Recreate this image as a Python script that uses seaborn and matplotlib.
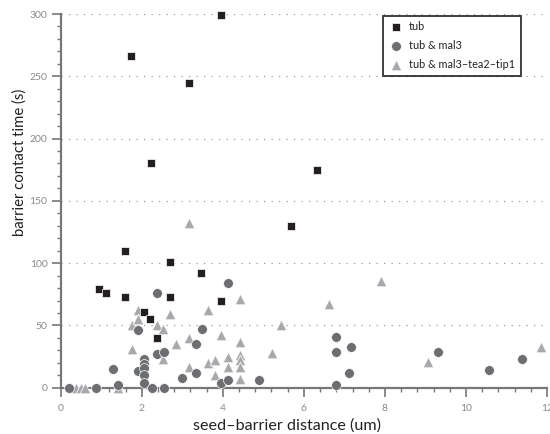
import matplotlib
matplotlib.use("Agg")
import matplotlib.pyplot as plt
import seaborn as sns
import pandas as pd
from matplotlib.ticker import MultipleLocator

# tub alone
tub_x = [1.74, 2.22, 3.16, 3.95, 6.32, 5.69, 1.59, 2.69, 3.47, 0.95, 1.11,
         1.59, 2.69, 3.95, 2.06, 2.21, 2.37]
tub_y = [266, 180, 245, 299, 175, 130, 110, 101, 92, 79, 76,
         73, 73, 70, 61, 55, 40]

# tub & mal3
mal3_x = [0.21, 0.87, 1.42, 1.28, 1.90, 1.90, 2.06, 2.06, 2.06, 2.06, 2.06,
          2.25, 2.37, 2.55, 2.38, 2.55, 3.00, 3.33, 3.33, 3.48, 4.12, 3.95,
          4.12, 4.90, 6.80, 6.80, 6.80, 7.17, 7.11, 9.32, 10.58, 11.38]
mal3_y = [0, 0, 2, 15, 46, 13, 23, 19, 16, 10, 4,
          0, 27, 29, 76, 0, 8, 35, 12, 47, 84, 4,
          6, 6, 41, 29, 2, 33, 12, 29, 14, 23]

# tub & mal3-tea2-tip1
tip1_x = [0.38, 0.50, 0.60, 1.42, 1.75, 1.75, 1.90, 1.90, 2.37, 2.53, 2.53,
          2.69, 2.85, 3.16, 3.16, 3.16, 3.64, 3.64, 3.80, 3.80, 3.95, 4.12,
          4.12, 4.43, 4.43, 4.43, 4.43, 4.43, 4.43, 5.21, 5.44, 6.63, 7.90,
          9.07, 11.86]
tip1_y = [0, 0, 0, 0, 31, 50, 62, 55, 50, 47, 23,
          59, 35, 132, 40, 17, 62, 20, 22, 10, 42, 25,
          17, 71, 37, 26, 22, 17, 7, 28, 50, 67, 86,
          21, 33]

labels = ["tub", "tub & mal3", "tub & mal3\u2013tea2\u2013tip1"]
colors = ["#231f20", "#6d6e71", "#a7a9ac"]
markers = ["s", "o", "^"]
sizes = [36, 50, 58]

df = pd.DataFrame({
    "distance": tub_x + mal3_x + tip1_x,
    "time": tub_y + mal3_y + tip1_y,
    "group": [labels[0]] * len(tub_x) + [labels[1]] * len(mal3_x) + [labels[2]] * len(tip1_x),
})

sns.set_style("white")
plt.rcParams["font.family"] = ["Lato", "DejaVu Sans"]

fig = plt.figure(figsize=(5.5, 4.34), dpi=100)
ax = fig.add_axes([0.1104, 0.1067, 0.8842, 0.861])

# triangles underneath, squares on top
zorders = [5, 4, 3]
for lab, col, mk, sz, zo in zip(labels, colors, markers, sizes, zorders):
    sub = df[df["group"] == lab]
    sns.scatterplot(data=sub, x="distance", y="time", ax=ax, color=col,
                    marker=mk, s=sz, edgecolor="white", linewidth=0.5,
                    label=lab, zorder=zo, clip_on=False)

ax.set_xlim(0, 12)
ax.set_ylim(0, 300)
ax.xaxis.set_major_locator(MultipleLocator(2))
ax.xaxis.set_minor_locator(MultipleLocator(0.4))
ax.yaxis.set_major_locator(MultipleLocator(50))
ax.yaxis.set_minor_locator(MultipleLocator(10))

spine_col = "#777777"
for side in ["top", "right"]:
    ax.spines[side].set_visible(False)
for side in ["left", "bottom"]:
    ax.spines[side].set_color(spine_col)
    ax.spines[side].set_linewidth(1.6)

ax.tick_params(axis="both", which="major", direction="out", length=6.5, width=1.2,
               color=spine_col, labelcolor="#8a8a8a", labelsize=7.5, pad=3)
ax.tick_params(axis="both", which="minor", direction="out", length=3, width=1.0,
               color=spine_col)
ax.tick_params(axis="x", which="major", pad=5)
ax.tick_params(axis="x", which="both", bottom=True)
ax.tick_params(axis="y", which="both", left=True)

ax.grid(False)
ax.yaxis.grid(True, which="major", linestyle=(0, (1, 5)), color="#9a9a9a", linewidth=0.9)
ax.set_axisbelow(True)

ax.set_xlabel("seed\u2013barrier distance (um)", fontsize=11.6, color="#222222")
ax.set_ylabel("barrier contact time (s)", fontsize=10.7, color="#222222")
ax.xaxis.set_label_coords(0.466, -0.081)
ax.yaxis.set_label_coords(-0.070, 0.604)

leg = ax.legend(loc="upper left", bbox_to_anchor=(382.7 / 550, 1 - 15.7 / 434),
                bbox_transform=fig.transFigure, frameon=True, fancybox=False,
                fontsize=7.8, handletextpad=0.49, borderpad=0.52, labelspacing=0.73,
                handlelength=1.42, borderaxespad=0)
leg.get_frame().set_edgecolor("#111111")
leg.get_frame().set_linewidth(1.4)
for t in leg.get_texts():
    t.set_color("#222222")

fig.savefig("out.png", dpi=100)
